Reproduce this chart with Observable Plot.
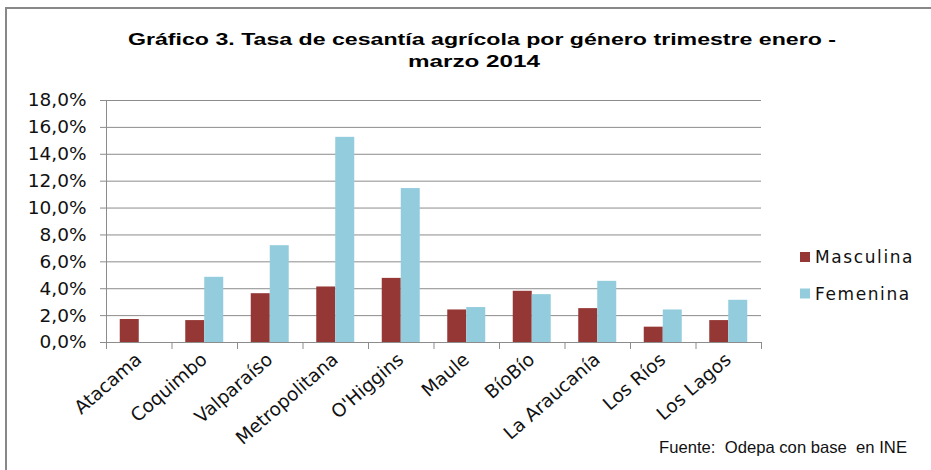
<!DOCTYPE html>
<html><head><meta charset="utf-8">
<script src="https://cdn.jsdelivr.net/npm/d3@7"></script>
<script src="https://cdn.jsdelivr.net/npm/@observablehq/plot@0.6"></script>
<style>
body{margin:0;background:#fff}
#chart{position:relative;width:931px;height:470px;overflow:hidden;background:#fff}
</style>
</head><body><div id="chart"></div>
<script>
const regions = ["Atacama","Coquimbo","Valparaíso","Metropolitana","O'Higgins","Maule","BíoBío","La Araucanía","Los Ríos","Los Lagos"];
const masculina = [1.71,1.63,3.63,4.13,4.77,2.42,3.81,2.52,1.14,1.63];
const femenina  = [null,4.85,7.20,15.26,11.45,2.60,3.56,4.55,2.42,3.14];
const seriesNames = ["Masculina","Femenina"];
const seriesColors = ["#953735","#93CDDD"];
const yTicks = [0,2,4,6,8,10,12,14,16,18];
const titleLines = ["Gráfico 3. Tasa de cesantía agrícola por género trimestre enero -","marzo 2014"];
const sourceNote = "Fuente:  Odepa con base  en INE";

const seriesValues = [masculina, femenina];
const rows = regions.flatMap((r, i) => seriesNames.map((s, k) => ({region: r, i, k, series: s, value: seriesValues[k][i]})))
  .filter(d => d.value != null);

const gap = 0.21, barW = 0.29;
const gridColor = "#8c8c8c";
const W = 931, H = 470;

const plot = Plot.plot({
  width: W, height: H,
  marginLeft: 106, marginRight: 170, marginTop: 100, marginBottom: 128,
  x: {domain: [0, regions.length], axis: null},
  y: {domain: [0, 18], axis: null},
  color: {domain: seriesNames, range: seriesColors},
  style: {fontFamily: "DejaVu Sans", background: "transparent", overflow: "visible"},
  marks: [
    Plot.ruleY(yTicks.filter(t => t > 0), {stroke: gridColor}),
    Plot.axisY({ticks: yTicks, tickSize: 6, tickPadding: 14, label: null,
      tickFormat: d => d.toFixed(1).replace(".", ",") + "%",
      fontSize: 18.5, stroke: gridColor, fill: "#111"}),
    Plot.rect(rows, {x1: d => d.i + gap + d.k * barW, x2: d => d.i + gap + (d.k + 1) * barW,
      y1: 0, y2: "value", fill: "series"}),
    Plot.ruleX([0], {stroke: gridColor}),
    Plot.ruleY([0], {stroke: gridColor}),
    Plot.axisX({ticks: d3.range(0, regions.length + 1), tickSize: 7, tickFormat: () => "",
      stroke: gridColor, label: null}),
    Plot.text(regions, {x: (d, i) => i + 0.5, y: 0, text: d => d, rotate: -41,
      textAnchor: "end", lineAnchor: "top", dx: -5, dy: 9, fontSize: 18.5, fill: "#111"})
  ]
});
document.getElementById("chart").appendChild(plot);

const svg = d3.select(plot);
// frame border (left and top)
svg.append("path").attr("d", `M6,${H} V8 H${W}`).attr("fill", "none")
  .attr("stroke", "#888").attr("stroke-width", 2);

// title
const title = svg.append("g").attr("font-family", "Liberation Sans, Arial, sans-serif")
  .attr("font-weight", "bold").attr("font-size", 17).attr("fill", "#000").attr("text-anchor", "start");
title.append("text").attr("x", 128).attr("y", 45).attr("textLength", 708)
  .attr("lengthAdjust", "spacingAndGlyphs").text(titleLines[0]);
title.append("text").attr("x", 408).attr("y", 67).attr("textLength", 132)
  .attr("lengthAdjust", "spacingAndGlyphs").text(titleLines[1]);

// legend
const leg = svg.append("g").attr("font-family", "DejaVu Sans").attr("font-size", 17)
  .attr("fill", "#111").attr("text-anchor", "start");
seriesNames.forEach((s, k) => {
  const cy = 257 + k * 36.5;
  leg.append("rect").attr("x", 800).attr("y", cy - 5).attr("width", 10).attr("height", 10).attr("fill", seriesColors[k]);
  leg.append("text").attr("x", 815).attr("y", cy).attr("dy", "0.36em").attr("letter-spacing", 1.6).text(s);
});

// source note
svg.append("text").attr("x", 659).attr("y", 453).attr("font-family", "Liberation Sans, Arial, sans-serif")
  .attr("text-anchor", "start")
  .attr("font-size", 16.5).attr("fill", "#111").attr("textLength", 248)
  .attr("lengthAdjust", "spacingAndGlyphs").text(sourceNote);
</script>
</body></html>
